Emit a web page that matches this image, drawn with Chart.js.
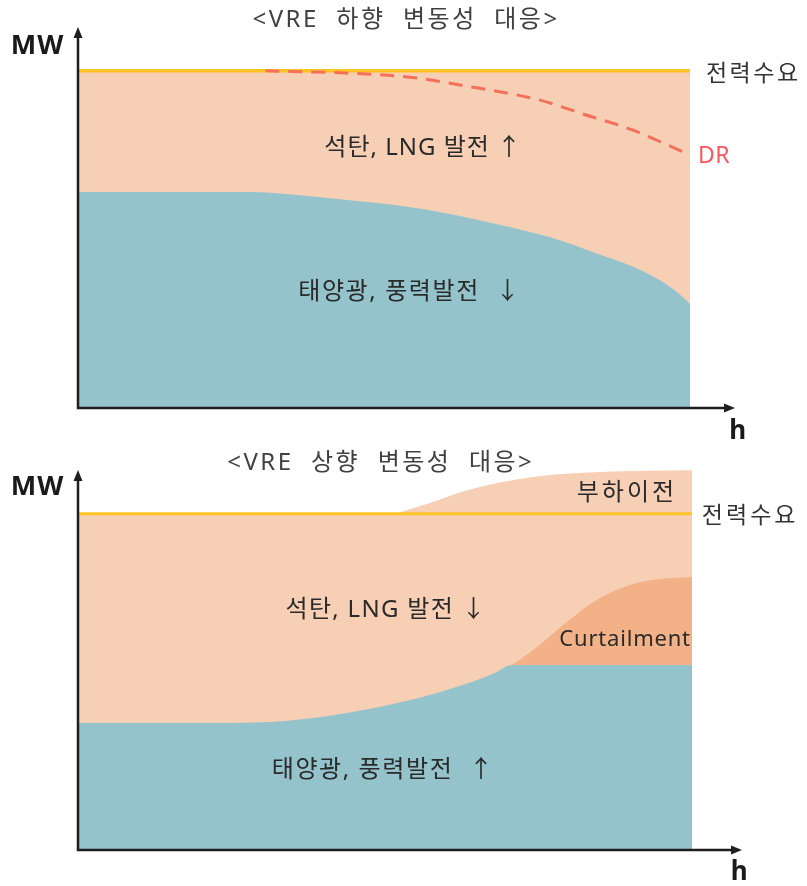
<!DOCTYPE html>
<html>
<head>
<meta charset="utf-8">
<script src="https://cdn.jsdelivr.net/npm/chart.js@4.4.1/dist/chart.umd.min.js"></script>
<style>
  html, body { margin: 0; padding: 0; background: #ffffff; }
  #wrap { width: 807px; height: 886px; position: relative; overflow: hidden; }
  canvas { display: block; }
</style>
</head>
<body>
<div id="wrap">
  <canvas id="downChart" width="807" height="443"></canvas>
  <canvas id="upChart" width="807" height="443"></canvas>
</div>
<script>
// ---- <VRE 하향 변동성 대응> : renewable output falls ----
const downDemandHours = [0, 100];
const downDemand      = [100, 100];
const downVreHours    = [0, 15, 28, 36, 44, 53, 61, 69, 77, 85, 90, 94, 97, 99, 100];
const downVre         = [64.1, 64.1, 64.1, 63.2, 61.7, 59.9, 57.5, 54.3, 50.7, 45.7, 42.4, 39.0, 35.6, 32.6, 30.8];
const drHours         = [30.6, 42.8, 53.8, 62.4, 75.5, 82.5, 90.7, 98.9];
const drValues        = [100, 99.4, 98.2, 95.8, 91.3, 87.2, 82.4, 75.9];

// ---- <VRE 상향 변동성 대응> : renewable output rises ----
const upDemandHours   = [0, 100];
const upDemand        = [100, 100];
const upVreHours      = [0, 19.9, 31.3, 41.0, 52.0, 59.0, 64.0, 68.0, 70.6, 100];
const upVre           = [37.8, 37.8, 38.1, 39.9, 43.7, 47.0, 49.9, 52.7, 55.0, 55.0];
const curtailHours    = [59.0, 64.0, 68.0, 71.0, 75.2, 79.6, 85.0, 90.4, 94.8, 100];
const curtailValues   = [46.6, 49.7, 52.6, 55.4, 61.0, 67.8, 74.9, 79.1, 80.6, 81.2];
const shiftHours      = [51.6, 57.3, 63.4, 74.1, 85.0, 100];
const shiftValues     = [100, 103.2, 107.0, 110.9, 112.4, 112.9];

const Y_MAX = 113;

const PEACH = '#F7CFB4';
const TEAL = '#95C3CC';
const CURTAIL = '#F2B186';
const DEMAND_LINE = '#FFC423';
const DR_LINE = '#F5705A';
const INK = '#2a2a2a';

const KFONT = '"Noto Sans", "Noto Sans CJK KR", sans-serif';

function pts(xs, ys) {
  return xs.map((x, i) => ({ x: x, y: ys[i] }));
}

// Axis lines with arrow heads, drawn over the filled areas
const axesPlugin = {
  id: 'arrowAxes',
  afterDatasetsDraw(chart) {
    const { ctx, chartArea, scales } = chart;
    const x0 = chartArea.left;
    const y0 = scales.y.getPixelForValue(0);
    const xEnd = chartArea.right;
    const yEnd = chartArea.top;
    ctx.save();
    ctx.strokeStyle = '#1e1e1e';
    ctx.fillStyle = '#1e1e1e';
    ctx.lineWidth = 2.5;
    ctx.lineCap = 'butt';
    ctx.beginPath();
    ctx.moveTo(x0, y0);
    ctx.lineTo(xEnd - 8, y0);
    ctx.moveTo(x0, y0 + 1.25);
    ctx.lineTo(x0, yEnd + 8);
    ctx.stroke();
    // x arrow head
    ctx.beginPath();
    ctx.moveTo(xEnd, y0);
    ctx.lineTo(xEnd - 11, y0 - 4.5);
    ctx.lineTo(xEnd - 11, y0 + 4.5);
    ctx.closePath();
    ctx.fill();
    // y arrow head
    ctx.beginPath();
    ctx.moveTo(x0, yEnd);
    ctx.lineTo(x0 - 4.5, yEnd + 11);
    ctx.lineTo(x0 + 4.5, yEnd + 11);
    ctx.closePath();
    ctx.fill();
    ctx.restore();
  }
};

// Text annotations anchored at data coordinates
const notesPlugin = {
  id: 'notes',
  afterDraw(chart, args, opts) {
    const { ctx, scales } = chart;
    (opts.items || []).forEach(n => {
      ctx.save();
      ctx.font = n.font;
      ctx.fillStyle = n.color || INK;
      ctx.textAlign = n.align || 'center';
      ctx.textBaseline = 'middle';
      if (n.spacing) ctx.letterSpacing = n.spacing + 'px';
      ctx.fillText(n.text, scales.x.getPixelForValue(n.x), scales.y.getPixelForValue(n.y));
      ctx.restore();
    });
  }
};

function makeChart(id, datasets, xMax, padding, items) {
  return new Chart(document.getElementById(id), {
    type: 'line',
    data: { datasets: datasets },
    options: {
      responsive: false,
      animation: false,
      events: [],
      layout: { padding: padding },
      elements: {
        point: { radius: 0, hoverRadius: 0 },
        line: { cubicInterpolationMode: 'monotone', borderWidth: 0, borderColor: 'rgba(0,0,0,0)' }
      },
      scales: {
        x: { type: 'linear', min: 0, max: xMax, display: false },
        y: { type: 'linear', min: 0, max: Y_MAX, display: false }
      },
      plugins: {
        legend: { display: false },
        tooltip: { enabled: false },
        title: { display: false },
        notes: { items: items }
      }
    },
    plugins: [axesPlugin, notesPlugin]
  });
}

makeChart('downChart', [
  { label: '전력수요', data: pts(downDemandHours, downDemand), order: 4,
    fill: 'origin', backgroundColor: PEACH, borderColor: DEMAND_LINE, borderWidth: 3.5 },
  { label: '태양광, 풍력발전', data: pts(downVreHours, downVre), order: 3,
    fill: 'origin', backgroundColor: TEAL },
  { label: 'DR', data: pts(drHours, drValues), order: 1,
    fill: false, borderColor: DR_LINE, borderWidth: 3, borderDash: [14, 9] }
], 107.35, { left: 78, right: 72, top: 27, bottom: 35 }, [
  { text: '<VRE  하향  변동성  대응>', x: 53.6, y: 115.0, font: '24px ' + KFONT, color: '#404040', spacing: 2.5 },
  { text: 'MW', x: -6.6, y: 107.3, font: 'bold 27px ' + KFONT, color: '#1a1a1a', spacing: 1 },
  { text: 'h', x: 107.8, y: -7.1, font: 'bold 26px ' + KFONT, color: '#1a1a1a' },
  { text: '전력수요', x: 102.6, y: 99.0, font: '23px ' + KFONT, color: '#333', align: 'left', spacing: 2.5 },
  { text: 'DR', x: 101.3, y: 74.7, font: '23px ' + KFONT, color: '#FF5560', align: 'left', spacing: 0.5 },
  { text: '석탄, LNG 발전 ↑', x: 56.4, y: 77.1, font: '24px ' + KFONT, spacing: 1 },
  { text: '태양광, 풍력발전  ↓', x: 54.2, y: 34.4, font: '24px ' + KFONT, spacing: 1.6 }
]);

makeChart('upChart', [
  { label: '부하이전', data: pts(shiftHours, shiftValues), order: 5,
    fill: 'origin', backgroundColor: PEACH },
  { label: '전력수요', data: pts(upDemandHours, upDemand), order: 4,
    fill: 'origin', backgroundColor: PEACH, borderColor: DEMAND_LINE, borderWidth: 3 },
  { label: 'Curtailment', data: pts(curtailHours, curtailValues), order: 3,
    fill: 'origin', backgroundColor: CURTAIL },
  { label: '태양광, 풍력발전', data: pts(upVreHours, upVre), order: 2,
    fill: 'origin', backgroundColor: TEAL }
], 108.14, { left: 78, right: 65, top: 27, bottom: 36 }, [
  { text: '<VRE  상향  변동성  대응>', x: 49.3, y: 115.0, font: '24px ' + KFONT, color: '#404040', spacing: 2.5 },
  { text: 'MW', x: -6.6, y: 108.0, font: 'bold 27px ' + KFONT, color: '#1a1a1a', spacing: 1 },
  { text: 'h', x: 107.7, y: -6.8, font: 'bold 26px ' + KFONT, color: '#1a1a1a' },
  { text: '전력수요', x: 101.6, y: 99.3, font: '23px ' + KFONT, color: '#333', align: 'left', spacing: 3 },
  { text: '부하이전', x: 89.4, y: 106.2, font: '24px ' + KFONT, spacing: 3 },
  { text: 'Curtailment', x: 89.1, y: 62.4, font: '22px ' + KFONT, spacing: 0.8 },
  { text: '석탄, LNG 발전 ↓', x: 50.2, y: 71.4, font: '24px ' + KFONT, spacing: 1.3 },
  { text: '태양광, 풍력발전  ↑', x: 49.7, y: 23.8, font: '24px ' + KFONT, spacing: 1.6 }
]);
</script>
</body>
</html>
